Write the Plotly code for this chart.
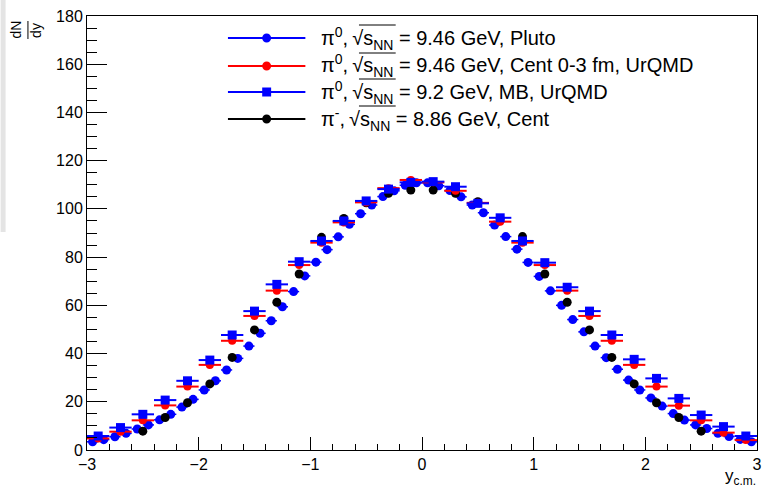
import plotly.graph_objects as go

# ---------------- data ----------------
pluto_x = [round(-2.95 + 0.1 * i, 2) for i in range(60)]
pluto_y = [3.4, 4.3, 5.5, 6.9, 8.7, 10.4, 12.5, 14.8, 17.8, 21.0,
           24.9, 28.7, 33.2, 38.0, 43.1, 48.4, 53.6, 59.4, 65.7, 72.2,
           77.9, 83.1, 88.4, 93.6, 98.0, 101.6, 105.1, 107.5, 109.8, 110.8,
           110.8, 109.6, 107.6, 105.0, 101.6, 98.4, 93.3, 88.5, 83.3, 77.8,
           72.0, 66.0, 60.0, 54.1, 49.0, 43.1, 38.3, 33.5, 29.0, 24.9,
           21.6, 18.2, 15.1, 12.4, 10.4, 8.9, 6.9, 5.6, 4.4, 3.4]
pluto_ex = [0.05] * 60

urqmd_x = [round(-2.9 + 0.2 * i, 2) for i in range(30)]
cent_y = [4.8, 7.6, 12.3, 18.5, 26.3, 35.3, 45.3, 55.6, 66.1, 76.7,
          86.0, 94.4, 102.7, 108.6, 112.0, 111.0, 107.5, 102.5, 94.7, 86.0,
          76.7, 66.1, 55.6, 45.3, 35.3, 26.3, 18.4, 12.3, 7.2, 4.1]
mb_y = [5.8, 9.3, 14.8, 20.7, 28.7, 37.3, 47.7, 57.6, 68.7, 78.1,
        86.7, 95.0, 103.3, 108.2, 111.0, 111.3, 109.2, 102.3, 96.3, 86.7,
        77.7, 67.5, 57.6, 47.7, 37.6, 29.7, 21.4, 14.5, 9.7, 5.8]
urqmd_ex = [0.1] * 30

data_x = [round(-2.5 + 0.2 * i, 2) for i in range(26)]
data_y = [7.8, 13.5, 19.6, 27.4, 38.4, 49.8, 61.3, 73.0, 88.2, 96.0,
          102.5, 106.5, 107.8, 107.8, 106.5, 103.0, 96.0, 88.5, 73.0, 61.3,
          49.8, 38.4, 27.4, 19.6, 13.5, 7.8]

SQRT = "\u2009√s<sub>NN</sub>"
legend_labels = [
    "π<sup>0</sup>," + SQRT + " = 9.46 GeV, Pluto",
    "π<sup>0</sup>," + SQRT + " = 9.46 GeV, Cent 0-3 fm, UrQMD",
    "π<sup>0</sup>," + SQRT + " = 9.2 GeV, MB, UrQMD",
    "π<sup>-</sup>," + SQRT + " = 8.86 GeV, Cent",
]
legend_colors = ["#0000ff", "#ff0000", "#0000ff", "#000000"]
legend_symbols = ["circle", "circle", "square", "circle"]

x_ticks = [-3, -2, -1, 0, 1, 2, 3]
y_ticks = [0, 20, 40, 60, 80, 100, 120, 140, 160, 180]

# ---------------- layout geometry ----------------
W, H = 765, 491
L, R, T, B = 87, 3, 16, 41
PW, PH = W - L - R, H - T - B
FONT = "Liberation Sans, Arial, Helvetica, sans-serif"


def px(x):
    return (x - L) / PW


def py(y):
    return (T + PH - y) / PH


fig = go.Figure()

fig.add_trace(go.Scatter(
    x=pluto_x, y=pluto_y, mode="markers",
    marker=dict(color="#0000ff", size=9, symbol="circle", line=dict(width=0)),
    error_x=dict(type="data", array=pluto_ex, color="#0000ff", thickness=1.5, width=0),
    showlegend=False))

fig.add_trace(go.Scatter(
    x=data_x, y=data_y, mode="markers",
    marker=dict(color="#000000", size=9, symbol="circle", line=dict(width=0)),
    showlegend=False))

fig.add_trace(go.Scatter(
    x=urqmd_x, y=cent_y, mode="markers",
    marker=dict(color="#ff0000", size=8, symbol="circle", line=dict(width=0)),
    error_x=dict(type="data", array=urqmd_ex, color="#ff0000", thickness=2, width=0),
    showlegend=False))

fig.add_trace(go.Scatter(
    x=urqmd_x, y=mb_y, mode="markers",
    marker=dict(color="#0000ff", size=9, symbol="square", line=dict(width=0)),
    error_x=dict(type="data", array=urqmd_ex, color="#0000ff", thickness=2, width=0),
    showlegend=False))

shapes = []
annotations = []

# custom legend
rows = [38, 66, 92, 119]
for yy, lab, col, sym in zip(rows, legend_labels, legend_colors, legend_symbols):
    shapes.append(dict(type="line", xref="paper", yref="paper",
                       x0=px(229), x1=px(307), y0=py(yy), y1=py(yy),
                       line=dict(color=col, width=2)))
    r = 4.5
    shapes.append(dict(type="circle" if sym == "circle" else "rect",
                       xref="paper", yref="paper",
                       x0=px(268 - r), x1=px(268 + r), y0=py(yy - r), y1=py(yy + r),
                       fillcolor=col, line=dict(width=0)))
    annotations.append(dict(text=lab, xref="paper", yref="paper",
                            x=px(321), y=py(yy), xanchor="left", yanchor="middle",
                            showarrow=False, font=dict(family=FONT, size=20, color="#000")))
    # overline of the square root
    shapes.append(dict(type="line", xref="paper", yref="paper",
                       x0=px(361), x1=px(398), y0=py(yy - 13), y1=py(yy - 13),
                       line=dict(color="#000", width=1)))

# grey strip at the left edge
shapes.append(dict(type="rect", xref="paper", yref="paper", layer="below",
                   x0=px(0), x1=px(5), y0=py(232), y1=py(0),
                   fillcolor="#e4e4e4", line=dict(width=0)))

# y-axis title (rotated fraction dN/dy)
annotations.append(dict(text="dN", xref="paper", yref="paper", x=px(15), y=py(30),
                        xanchor="center", yanchor="middle", textangle=-90, showarrow=False,
                        font=dict(family=FONT, size=14, color="#000")))
annotations.append(dict(text="dy", xref="paper", yref="paper", x=px(35.5), y=py(30),
                        xanchor="center", yanchor="middle", textangle=-90, showarrow=False,
                        font=dict(family=FONT, size=14, color="#000")))
shapes.append(dict(type="line", xref="paper", yref="paper",
                   x0=px(27.5), x1=px(27.5), y0=py(21), y1=py(39),
                   line=dict(color="#000", width=1)))

# x-axis title
annotations.append(dict(text="y<sub>c.m.</sub>", xref="paper", yref="paper",
                        x=px(763), y=py(490), xanchor="right", yanchor="bottom",
                        showarrow=False, font=dict(family=FONT, size=17, color="#000")))

axis_common = dict(showgrid=False, zeroline=False, showline=True, linecolor="#000",
                   linewidth=1, mirror=True, ticks="inside", tickcolor="#000",
                   tickwidth=1, tickfont=dict(family=FONT, size=16, color="#000"))

fig.update_layout(
    width=W, height=H,
    margin=dict(l=L, r=R, t=T, b=B, pad=0),
    paper_bgcolor="#ffffff", plot_bgcolor="#ffffff",
    xaxis=dict(range=[-3, 3], tickmode="array", tickvals=x_ticks,
               ticktext=[str(v).replace("-", "\u2212") for v in x_ticks], ticklen=13,
               ticklabeloverflow="allow",
               minor=dict(dtick=0.2, ticklen=6.5, ticks="inside", tickcolor="#000", tickwidth=1),
               **axis_common),
    yaxis=dict(range=[0, 180], tickmode="array", tickvals=y_ticks, ticklen=20,
               ticklabeloverflow="allow",
               minor=dict(dtick=5, ticklen=10, ticks="inside", tickcolor="#000", tickwidth=1),
               **axis_common),
    shapes=shapes, annotations=annotations, showlegend=False,
)

fig.write_html("out.html", config={"displayModeBar": False, "staticPlot": True},
               post_script="document.body.style.margin='0px';document.body.style.padding='0px';")
